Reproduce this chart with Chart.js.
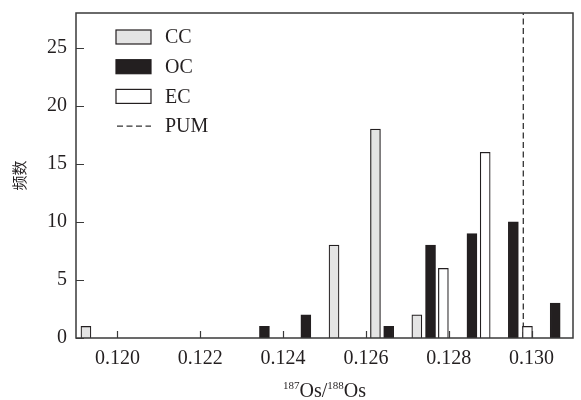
<!DOCTYPE html>
<html>
<head>
<meta charset="utf-8">
<script src="https://cdn.jsdelivr.net/npm/chart.js@4.4.1/dist/chart.umd.min.js"></script>
<style>
  html, body { margin: 0; padding: 0; background: #fff; }
  #wrap { width: 581px; height: 400px; position: relative; }
</style>
</head>
<body>
<div id="wrap"><canvas id="osChart"></canvas></div>
<script>
// 187Os/188Os 比值分布 (bin 中心, 频数)
const ccRatio = [0.11924, 0.12523, 0.12623, 0.12723];
const ccCount = [1, 8, 18, 2];
const ocRatio = [0.12355, 0.12455, 0.12655, 0.12756, 0.12856, 0.12956, 0.13057];
const ocCount = [1, 2, 1, 8, 9, 10, 3];
const ecRatio = [0.12787, 0.12888, 0.12990];
const ecCount = [6, 16, 1];
const pumRatio = 0.1298;

const xTicks = [0.120, 0.122, 0.124, 0.126, 0.128, 0.130];
const yTicks = [0, 5, 10, 15, 20, 25];
const legendNames = ['CC', 'OC', 'EC', 'PUM'];

const serif = '"Liberation Serif", "Times New Roman", serif';
const inkColor = '#231f20';

function toPoints(xs, ys) {
    return xs.map((x, i) => ({ x: x, y: ys[i] }));
}

// 坐标框 + 向内刻度
const framePlugin = {
    id: 'frame',
    afterDatasetsDraw(chart) {
        const { ctx, chartArea: a, scales } = chart;
        ctx.save();
        ctx.strokeStyle = '#3a3a3a';
        ctx.lineWidth = 1.5;
        ctx.strokeRect(a.left, a.top, a.right - a.left, a.bottom - a.top);
        ctx.lineWidth = 1.2;
        ctx.beginPath();
        xTicks.forEach(v => {
            const px = Math.round(scales.x.getPixelForValue(v)) + 0.5;
            ctx.moveTo(px, a.bottom);
            ctx.lineTo(px, a.bottom - 7);
        });
        yTicks.forEach(v => {
            const py = Math.round(scales.y.getPixelForValue(v)) + 0.5;
            ctx.moveTo(a.left, py);
            ctx.lineTo(a.left + 8, py);
        });
        ctx.stroke();
        ctx.restore();
    }
};

// 图例 (左上角, 图内)
const legendPlugin = {
    id: 'boxLegend',
    afterDraw(chart) {
        const { ctx, chartArea: a } = chart;
        const ds = chart.data.datasets;
        const x0 = a.left + 40, w = 35, h = 14, rowGap = 29.7;
        let y = a.top + 24;
        ctx.save();
        ctx.font = '20px ' + serif;
        ctx.textBaseline = 'middle';
        ds.forEach((d, i) => {
            if (d.type === 'line') {
                ctx.strokeStyle = d.borderColor;
                ctx.lineWidth = 1.3;
                ctx.setLineDash([6, 3.5]);
                ctx.beginPath();
                ctx.moveTo(x0 + 1, y);
                ctx.lineTo(x0 + w, y);
                ctx.stroke();
                ctx.setLineDash([]);
            } else {
                ctx.fillStyle = d.backgroundColor;
                ctx.fillRect(x0, y - h / 2, w, h);
                ctx.strokeStyle = d.borderColor;
                ctx.lineWidth = 1.2;
                ctx.strokeRect(x0, y - h / 2, w, h);
            }
            ctx.fillStyle = inkColor;
            ctx.fillText(legendNames[i], x0 + 49, y + 1);
            y += rowGap;
        });
        ctx.restore();
    }
};

// x 轴标题 (带上标)
const xTitlePlugin = {
    id: 'xTitle',
    afterDraw(chart) {
        const { ctx, chartArea: a } = chart;
        const parts = [['187', true], ['Os/', false], ['188', true], ['Os', false]];
        const bigFont = '20px ' + serif, supFont = '11px ' + serif;
        ctx.save();
        ctx.fillStyle = inkColor;
        ctx.textBaseline = 'alphabetic';
        let total = 0;
        parts.forEach(p => {
            ctx.font = p[1] ? supFont : bigFont;
            total += ctx.measureText(p[0]).width;
        });
        let x = (a.left + a.right) / 2 - total / 2;
        const base = 397;
        parts.forEach(p => {
            ctx.font = p[1] ? supFont : bigFont;
            ctx.fillText(p[0], x, p[1] ? base - 8 : base);
            x += ctx.measureText(p[0]).width;
        });
        ctx.restore();
    }
};

const barCommon = {
    type: 'bar',
    borderColor: inkColor,
    borderWidth: 1.2,
    borderSkipped: 'start',
    barThickness: 10,
    grouped: false
};

new Chart(document.getElementById('osChart'), {
    type: 'bar',
    data: {
        datasets: [
            Object.assign({ label: 'CC', data: toPoints(ccRatio, ccCount), backgroundColor: '#e4e4e4' }, barCommon),
            Object.assign({ label: 'OC', data: toPoints(ocRatio, ocCount), backgroundColor: inkColor }, barCommon),
            Object.assign({ label: 'EC', data: toPoints(ecRatio, ecCount), backgroundColor: '#ffffff' }, barCommon),
            {
                type: 'line',
                label: 'PUM',
                data: [{ x: pumRatio, y: 0 }, { x: pumRatio, y: 28 }],
                borderColor: '#333333',
                borderWidth: 1.3,
                borderDash: [6, 3.5],
                pointRadius: 0,
                fill: false
            }
        ]
    },
    options: {
        responsive: true,
        maintainAspectRatio: false,
        animation: false,
        layout: { padding: { top: 13, right: 8, left: 0, bottom: 0 } },
        plugins: {
            legend: { display: false },
            tooltip: { enabled: false }
        },
        scales: {
            x: {
                type: 'linear',
                min: 0.119,
                max: 0.131,
                offset: false,
                grid: { display: false, drawTicks: false },
                border: { display: false },
                afterBuildTicks: scale => { scale.ticks = xTicks.map(v => ({ value: v })); },
                afterFit: scale => {
                    scale.height = 62;
                    scale.paddingLeft = 0;
                    scale.paddingRight = 0;
                },
                ticks: {
                    padding: 9,
                    color: inkColor,
                    font: { family: serif, size: 20 },
                    maxRotation: 0,
                    callback: v => Number(v).toFixed(3)
                }
            },
            y: {
                min: 0,
                max: 28,
                grid: { display: false, drawTicks: false },
                border: { display: false },
                afterBuildTicks: scale => { scale.ticks = yTicks.map(v => ({ value: v })); },
                afterFit: scale => {
                    scale.width = 76;
                    scale.paddingTop = 0;
                    scale.paddingBottom = 0;
                },
                ticks: {
                    padding: 9,
                    color: inkColor,
                    font: { family: serif, size: 20 }
                },
                title: {
                    display: true,
                    text: '频数',
                    color: inkColor,
                    font: { family: '"Noto Sans CJK SC", sans-serif', size: 15 },
                    padding: { top: 10, bottom: 0 }
                }
            }
        }
    },
    plugins: [framePlugin, legendPlugin, xTitlePlugin]
});
</script>
</body>
</html>
